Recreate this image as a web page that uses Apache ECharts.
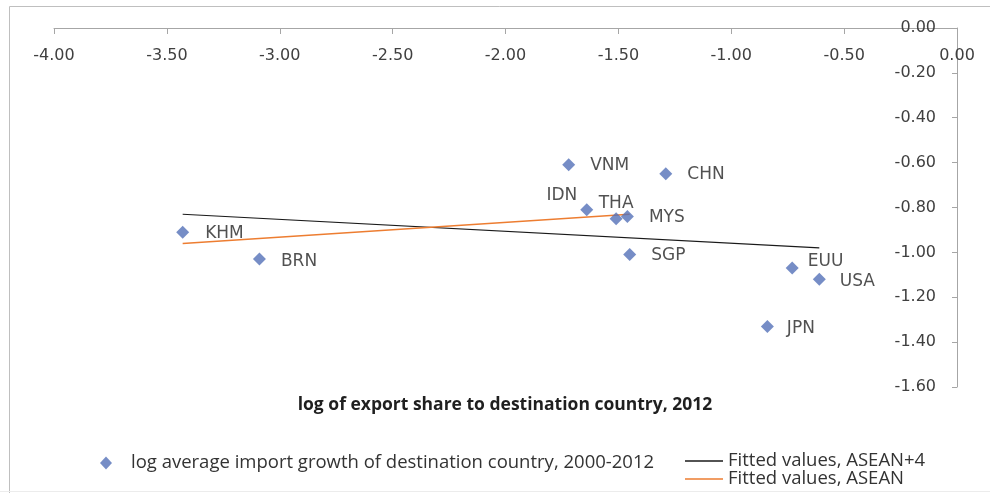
<!DOCTYPE html>
<html>
<head>
<meta charset="utf-8">
<script src="https://cdn.jsdelivr.net/npm/echarts@6/dist/echarts.min.js"></script>
<style>
  html, body { margin: 0; padding: 0; background: #fff; }
  #chart { width: 990px; height: 493px; }
</style>
</head>
<body>
<div id="chart"></div>
<script>
// countries and their coordinates (log export share, log avg import growth)
const countries = ['KHM', 'BRN', 'VNM', 'CHN', 'IDN', 'THA', 'MYS', 'SGP', 'EUU', 'USA', 'JPN'];
const exportShare = [-3.43, -3.09, -1.72, -1.29, -1.64, -1.51, -1.46, -1.45, -0.73, -0.61, -0.84];
const importGrowth = [-0.91, -1.03, -0.61, -0.65, -0.81, -0.85, -0.84, -1.01, -1.07, -1.12, -1.33];

// fitted lines (end points)
const fitAllX = [-3.43, -0.61];
const fitAllY = [-0.83, -0.98];
const fitAseanX = [-3.43, -1.45];
const fitAseanY = [-0.96, -0.83];

const xTicks = { min: -4, max: 0, step: 0.5 };
const yTicks = { min: -1.6, max: 0, step: 0.2 };

const scatterName = 'log average import growth of destination country, 2000-2012';
const fitAllName = 'Fitted values, ASEAN+4';
const fitAseanName = 'Fitted values, ASEAN';

// label placement tweaks for crowded points
const labelTweaks = {
  KHM: { distance: 16, offset: [0, 1] },
  IDN: { position: 'left', distance: 3, offset: [0, -14] },
  THA: { position: 'top', distance: 0, offset: [0, 0] },
  EUU: { distance: 9, offset: [0, -7] },
  USA: { distance: 14, offset: [0, 2] },
  JPN: { distance: 13, offset: [0, 2] },
  BRN: { distance: 15, offset: [0, 2] }
};

const tickFont = 'DejaVu Sans';
const textFont = 'Open Sans';
const legendText = { fontFamily: textFont, fontSize: 18.5, color: '#333', lineHeight: 20 };

const scatterData = countries.map((c, i) => {
  const item = { name: c, value: [exportShare[i], importGrowth[i]] };
  if (labelTweaks[c]) item.label = labelTweaks[c];
  return item;
});

const chart = echarts.init(document.getElementById('chart'));

const option = {
  backgroundColor: '#ffffff',
  animation: false,
  title: {
    text: 'log of export share to destination country, 2012',
    left: 505,
    top: 394,
    textAlign: 'center',
    padding: 0,
    textStyle: {
      fontFamily: textFont,
      fontSize: 17.5,
      fontWeight: 'bold',
      color: '#1f1f1f',
      lineHeight: 22
    }
  },
  legend: [
    {
      data: [{ name: scatterName, icon: 'diamond' }],
      left: 100,
      top: 453,
      padding: 0,
      itemWidth: 12,
      itemHeight: 13,
      textStyle: Object.assign({}, legendText, { padding: [0, 0, 0, 14] })
    },
    {
      data: [{ name: fitAllName, icon: 'rect' }],
      left: 685,
      top: 451,
      padding: 0,
      itemWidth: 38,
      itemHeight: 1.3,
      textStyle: legendText
    },
    {
      data: [{ name: fitAseanName, icon: 'rect' }],
      left: 685,
      top: 469,
      padding: 0,
      itemWidth: 38,
      itemHeight: 1.6,
      textStyle: legendText
    }
  ],
  grid: {
    left: 54,
    right: 33,
    top: 28,
    bottom: 106,
    containLabel: false
  },
  xAxis: {
    type: 'value',
    position: 'top',
    min: xTicks.min,
    max: xTicks.max,
    interval: xTicks.step,
    axisLine: { show: true, onZero: false, lineStyle: { color: '#a6a6a6', width: 1 } },
    axisTick: { show: true, inside: true, length: 6, lineStyle: { color: '#a6a6a6' } },
    axisLabel: {
      inside: true,
      margin: 20,
      fontFamily: tickFont,
      fontSize: 16,
      color: '#404040',
      showMinLabel: true,
      showMaxLabel: true,
      formatter: v => v.toFixed(2)
    },
    splitLine: { show: false }
  },
  yAxis: {
    type: 'value',
    position: 'right',
    min: yTicks.min,
    max: yTicks.max,
    interval: yTicks.step,
    axisLine: { show: true, onZero: false, lineStyle: { color: '#a6a6a6', width: 1 } },
    axisTick: { show: true, inside: true, length: 5, lineStyle: { color: '#a6a6a6' } },
    axisLabel: {
      inside: true,
      margin: 21,
      fontFamily: tickFont,
      fontSize: 16,
      color: '#404040',
      showMinLabel: true,
      showMaxLabel: true,
      formatter: v => v.toFixed(2)
    },
    splitLine: { show: false }
  },
  graphic: [
    { type: 'line', shape: { x1: 9.5, y1: 6.5, x2: 990, y2: 6.5 }, style: { stroke: '#bfbfbf', lineWidth: 1 } },
    { type: 'line', shape: { x1: 9.5, y1: 6.5, x2: 9.5, y2: 493 }, style: { stroke: '#bfbfbf', lineWidth: 1 } },
    { type: 'line', shape: { x1: 0, y1: 491.5, x2: 990, y2: 491.5 }, style: { stroke: '#ececec', lineWidth: 1 } }
  ],
  series: [
    {
      name: scatterName,
      type: 'scatter',
      symbol: 'diamond',
      symbolSize: 13,
      itemStyle: { color: '#5470b8' },
      label: {
        show: true,
        formatter: '{b}',
        position: 'right',
        distance: 15,
        offset: [0, 1],
        fontFamily: tickFont,
        fontSize: 17,
        color: '#262626'
      },
      data: scatterData,
      z: 3
    },
    {
      name: fitAllName,
      type: 'line',
      symbol: 'none',
      lineStyle: { color: '#1a1a1a', width: 1.2 },
      itemStyle: { color: '#1a1a1a' },
      data: fitAllX.map((x, i) => [x, fitAllY[i]]),
      z: 2
    },
    {
      name: fitAseanName,
      type: 'line',
      symbol: 'none',
      lineStyle: { color: '#ed7d31', width: 1.5 },
      itemStyle: { color: '#ed7d31' },
      data: fitAseanX.map((x, i) => [x, fitAseanY[i]]),
      z: 2
    }
  ]
};

chart.setOption(option);
</script>
</body>
</html>
